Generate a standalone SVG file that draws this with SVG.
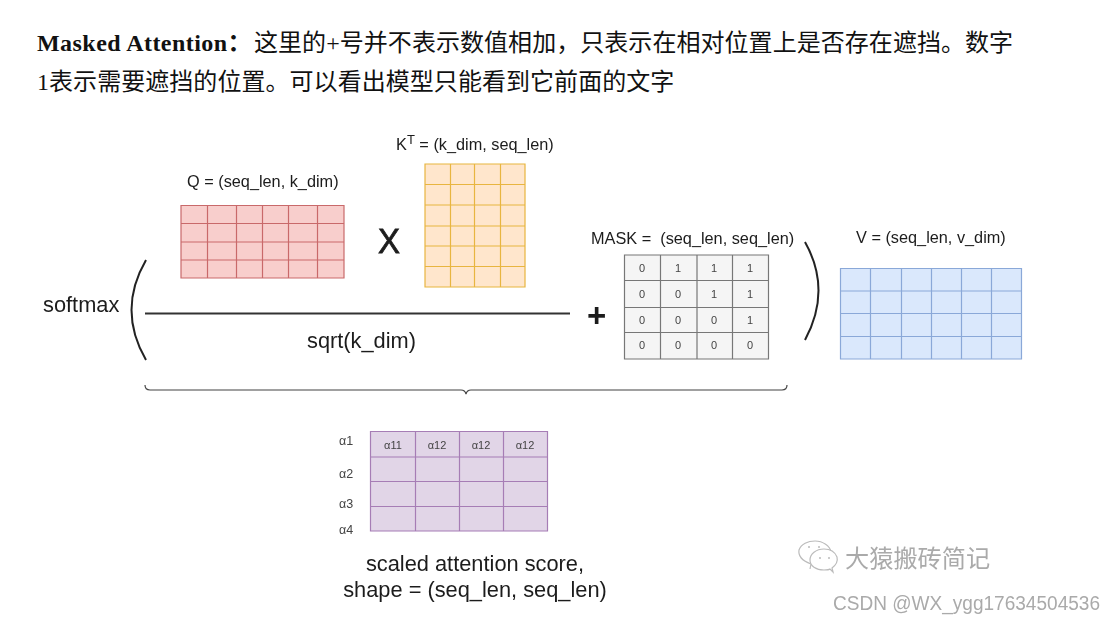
<svg xmlns="http://www.w3.org/2000/svg" width="1117" height="624" viewBox="0 0 1117 624">
<defs><filter id="soft" x="-5%" y="-5%" width="110%" height="110%"><feGaussianBlur stdDeviation="0.5"/></filter></defs>
<style>
text{font-family:"Liberation Sans",Arial,sans-serif;fill:#1c1c1c}
.cn{font-family:"Liberation Serif","Noto Sans CJK SC",serif;font-size:24px;fill:#111;letter-spacing:.05px}
.lb{font-size:16.300px;white-space:pre}
.big{font-size:21.800px}
.c{font-size:11px;text-anchor:middle;fill:#444}
.a{font-size:12.500px;fill:#444}
.g{stroke-width:1.200}
.q{fill:#f8cecc;stroke:#c9696a}
.k{fill:#ffe6cc;stroke:#e8b53f}
.m{fill:#f5f5f5;stroke:#777}
.v{fill:#dae8fc;stroke:#8aa8d8}
.p{fill:#e1d5e7;stroke:#a67db5}
.curve{fill:none;stroke:#222;stroke-width:2}
.blur{filter:url(#soft)}
.w{fill:#fff;stroke:#bbb;stroke-width:1.200}
</style>
<rect width="1117" height="624" fill="#fff"/>
<g id="caption">
<text x="37" y="51" class="cn"><tspan font-weight="700" letter-spacing=".45">Masked Attention&#xFF1A;</tspan><tspan dx="2">这里的+号并不表示数值相加&#xFF0C;只表示在相对位置上是否存在遮挡。数字</tspan></text>
<text x="37" y="90" class="cn">1表示需要遮挡的位置。可以看出模型只能看到它前面的文字</text>
</g>
<g id="connectors" class="blur">
<path class="curve" d="M146 260Q117 310 146 360"/>
<path class="curve" d="M805 242Q832 290 805 340"/>
<path d="M145 313.500H570" fill="none" stroke="#333" stroke-width="2"/>
<path d="M145 385Q145 390 150 390H461Q465 390 466 394Q467 390 471 390H782Q787 390 787 385" fill="none" stroke="#444" stroke-width="1.200"/>
</g>
<g id="matrix-q" class="blur">
<text x="187" y="187" class="lb">Q = (seq_len, k_dim)</text>
<path class="g q" d="M181 205.500H344V278H181ZM207.500 205.500V278M236.500 205.500V278M262.500 205.500V278M288.500 205.500V278M317.500 205.500V278M181 223.500H344M181 242H344M181 260H344"/>
</g>
<g id="times" class="blur"><text x="378" y="253" font-size="35" stroke="#1c1c1c" stroke-width=".8" textLength="22" lengthAdjust="spacingAndGlyphs">X</text></g>
<g id="matrix-k" class="blur">
<text x="396" y="150" class="lb">K<tspan font-size="13" dy="-6">T</tspan><tspan dy="6"> = (k_dim, seq_len)</tspan></text>
<path class="g k" d="M425 164H525V287H425ZM450.500 164V287M474.500 164V287M500.500 164V287M425 184.500H525M425 205H525M425 226H525M425 246H525M425 266.500H525"/>
</g>
<g id="softmax" class="blur"><text x="43" y="312" class="big">softmax</text></g>
<g id="sqrt" class="blur"><text x="307" y="348" class="big">sqrt(k_dim)</text></g>
<g id="plus" class="blur"><text x="587" y="327" font-size="33" font-weight="700">+</text></g>
<g id="matrix-mask" class="blur">
<text x="591" y="244" class="lb">MASK =  (seq_len, seq_len)</text>
<path class="g m" d="M624.500 255H768.500V359H624.500ZM660.500 255V359M697 255V359M732.500 255V359M624.500 280.500H768.500M624.500 307.500H768.500M624.500 332.500H768.500"/>
<text class="c" x="642" y="272">0</text><text class="c" x="678" y="272">1</text><text class="c" x="714" y="272">1</text><text class="c" x="750" y="272">1</text>
<text class="c" x="642" y="298">0</text><text class="c" x="678" y="298">0</text><text class="c" x="714" y="298">1</text><text class="c" x="750" y="298">1</text>
<text class="c" x="642" y="324">0</text><text class="c" x="678" y="324">0</text><text class="c" x="714" y="324">0</text><text class="c" x="750" y="324">1</text>
<text class="c" x="642" y="349">0</text><text class="c" x="678" y="349">0</text><text class="c" x="714" y="349">0</text><text class="c" x="750" y="349">0</text>
</g>
<g id="matrix-v" class="blur">
<text x="856" y="243" class="lb">V = (seq_len, v_dim)</text>
<path class="g v" d="M840.500 268.500H1021.500V359H840.500ZM870.500 268.500V359M901.500 268.500V359M931.500 268.500V359M961.500 268.500V359M991.500 268.500V359M840.500 291H1021.500M840.500 313.500H1021.500M840.500 336.500H1021.500"/>
</g>
<g id="matrix-score" class="blur">
<text class="a" x="339" y="445">α1</text><text class="a" x="339" y="478">α2</text><text class="a" x="339" y="508">α3</text><text class="a" x="339" y="534">α4</text>
<path class="g p" d="M370.500 431.500H547.500V531H370.500ZM415.500 431.500V531M459.500 431.500V531M503.500 431.500V531M370.500 457H547.500M370.500 481.500H547.500M370.500 506.500H547.500"/>
<text class="c" x="393" y="449">α11</text><text class="c" x="437" y="449">α12</text><text class="c" x="481" y="449">α12</text><text class="c" x="525" y="449">α12</text>
<text x="475" y="571" class="big" text-anchor="middle">scaled attention score,</text>
<text x="475" y="597" class="big" text-anchor="middle">shape = (seq_len, seq_len)</text>
</g>
<g id="watermark" class="blur">
<path class="w" d="M810 569L811 564C803 561 798 556 799 550C801 544 808 541 815 541C823 541 830 546 831 552"/>
<path class="w" d="M833 572L832 568C836 565 838 561 837 557C835 552 830 549 824 549C816 549 810 554 810 560C810 566 816 570 824 570C827 570 829 570 830 569Z"/>
<circle cx="809" cy="547" r="1" fill="#bbb"/><circle cx="819" cy="547" r="1" fill="#bbb"/><circle cx="820" cy="558" r="1" fill="#bbb"/><circle cx="829" cy="558" r="1" fill="#bbb"/>
<text x="845" y="567" font-size="24.200" style="font-family:'Noto Sans CJK SC',sans-serif;fill:#aaa">大猿搬砖简记</text>
<text x="833" y="610" font-size="19.500" textLength="267" lengthAdjust="spacingAndGlyphs" style="fill:#aaa">CSDN @WX_ygg17634504536</text>
</g>
</svg>
